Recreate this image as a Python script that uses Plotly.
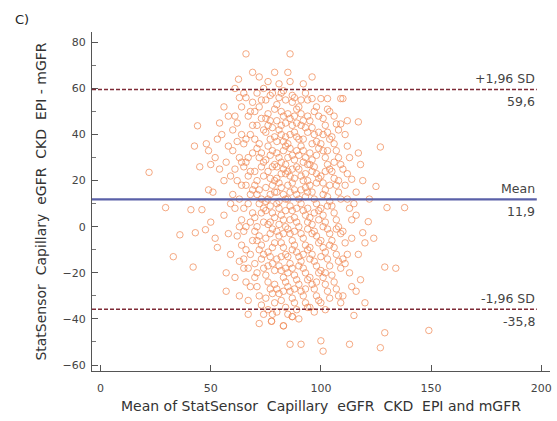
import plotly.graph_objects as go

# Hand-read (estimated) Bland-Altman points: mean of methods (x) and difference (y)
pts = [
 # outliers left
 (22,23.6),(29.5,8.3),(33,-13),(36,-3.5),(43,-2.6),(42,-17.5),(41,7.4),(46,7.4),(47.6,-1.3),
 (44,43.8),(42.6,35),(48,36),(49,33),(45,26),(50,27),(49,16),
 # 50-55
 (51,15),(53,38),(52,-5),(54,25),(50,2),(53,-9),(54,45),(52,30),
 # 55-60
 (56,20),(57,-20),(57,-28),(58,35),(59,10),(56,5),(58,48),(59,-12),(57,28),(55,40),(58,-3),(59,22),(56,52),(60,14),
 # 60-65
 (61,60),(62,45),(63,30),(64,18),(61,8),(62,-4),(63,-15),(64,52),(61,25),(62,37),(63,12),(64,-8),(60,33),
 (61,-22),(63,56),(64,3),(62,20),(60,42),(63,-30),(64,28),(61,48),(62.6,64),(63,0),(64,40),(65,-18),
 # 65-70
 (66,75),(69,67),(66,56),(67,48),(68,40),(69,32),(65,26),(66,18),(67,10),(68,2),(69,-6),(65,-14),(66,-24),
 (67,-32),(68,50),(69,44),(65,36),(66,28),(67,22),(68,14),(69,6),(65,-2),(66,-10),(67,-18),(68,-26),
 (69,54),(65,58),(66,38),(67,30),(68,24),(69,16),(65,8),(66,0),(67,-38),(68,-12),
 # 70-75
 (72,65),(71,58),(72,52),(73,47),(74,42),(70,38),(71,34),(72,30),(73,26),(74,22),(70,18),(71,14),(72,10),
 (73,6),(74,2),(70,-2),(71,-6),(72,-10),(73,-14),(74,-18),(70,-22),(71,-26),(72,-30),(73,-34),(74,-38),
 (70,50),(71,44),(72,36),(73,32),(74,28),(70,24),(71,20),(72,16),(73,12),(74,8),(70,4),(71,0),(72,-4),
 (73,-8),(74,-12),(70,-16),(71,-20),(72,-42),(73,55),(74,60),
 # 75-80
 (76,63),(77,57),(79,67),(78,58),(75,55),(76,49),(77,46),(78,43),(79,39),(75,41),(76,35),(77,31),(78,33),
 (79,27),(75,29),(76,24),(77,21),(78,18),(79,15),(75,17),(76,12),(77,9),(78,6),(79,4),(75,7),(76,1),
 (77,-3),(78,-1),(79,-7),(75,-5),(76,-11),(77,-13),(78,-16),(79,-19),(75,-21),(76,-24),(77,-27),(78,-29),
 (79,-33),(75,-31),(76,-36),(77.6,-41),(78,-38),(79,51),(75,47),(76,44),(77,38),(78,26),(79,20),(75,11),
 (76,-17),(77,14),(78,-9),(79,-25),(77,2),
 # 80-85
 (81,62),(83,59),(84,55),(80,53),(82,50),(83,48),(84,45),(80,46),(81,42),(82,40),(83,37),(84,35),(80,32),
 (81,30),(82,28),(83,25),(84,23),(80,21),(81,19),(82,17),(83,14),(84,12),(80,10),(81,8),(82,5),(83,3),
 (84,0),(80,-2),(81,-4),(82,-7),(83,-9),(84,-12),(80,-14),(81,-17),(82,-19),(83,-22),(84,-24),(80,-27),
 (81,-29),(82,-32),(83,-43),(84,-35),(80,-37),(81,56),(82,44),(83,33),(84,27),(80,15),(81,1),(82,-13),
 (83,-28),(84,39),(80,26),(81,11),(82,23),(83,-3),(84,-18),(82,58),(84,7),(80,37),
 # 85-90
 (86,75),(85,67),(86,63),(88,56),(87,54),(89,51),(85,49),(86,47),(87,44),(88,41),(89,39),(85,36),(86,34),
 (87,31),(88,29),(89,26),(85,24),(86,22),(87,19),(88,16),(89,14),(85,12),(86,9),(87,7),(88,4),(89,2),
 (85,-1),(86,-3),(87,-6),(88,-8),(89,-11),(85,-13),(86,-16),(87,-18),(88,-21),(89,-23),(85,-26),(86,-28),
 (87,-31),(88,-33),(89,-36),(85,-38),(87,-39),(86,-51),(87,57),(88,48),(89,33),(85,18),(86,3),(87,-10),
 (88,-27),(89,45),(85,30),(86,15),(87,25),(88,-2),(89,8),(85,-20),(86,40),(88,21),
 # 90-95
 (91,-51),(92,62),(93,58),(94,55),(90,52),(91,49),(92,46),(93,43),(94,41),(90,38),(91,35),(92,33),(93,30),
 (94,27),(90,25),(91,22),(92,20),(93,17),(94,15),(90,12),(91,10),(92,7),(93,5),(94,2),(90,0),(91,-3),
 (92,-5),(93,-8),(94,-10),(90,-13),(91,-15),(92,-18),(93,-20),(94,-23),(90,-25),(91,-28),(92,-30),(93,-33),
 (94,-35),(90,-40),(91,44),(92,28),(93,13),(94,-1),(90,-17),(91,55),(92,38),(93,23),(94,8),(90,31),
 (92,-12),(93,-27),(94,48),(91,16),(94,20),
 # 95-100
 (96,65),(96,55.6),(98,52),(99,48),(95,46),(96,43),(97,40),(98,37),(99,34),(95,32),(96,29),(97,26),(98,23),
 (99,21),(95,18),(96,15),(97,12),(98,10),(99,7),(95,4),(96,1),(97,-2),(98,-4),(99,-7),(95,-9),(96,-12),
 (97,-15),(98,-17),(99,-20),(95,-22),(96,-25),(97,-27),(98,-30),(99,-32),(95,-35),(97,-37),(100,-49.5),
 (100,55.6),(96,36),(97,50),(98,19),(99,3),(95,-14),(96,24),(97,6),(98,-24),(99,41),(95,27),(96,-3),(98,31),
 # 100-105
 (101,-54),(103,55.6),(104,50),(103,51),(101,47),(102,44),(103,41),(104,38),(100,36),(101,33),(102,30),
 (103,27),(104,25),(100,22),(101,19),(102,16),(103,13),(104,11),(100,8),(101,5),(102,2),(103,-1),(104,-3),
 (100,-6),(101,-9),(102,-11),(103,-14),(104,-17),(100,-19),(101,-22),(102,-25),(103,-28),(104,-31),
 (100,-33),(102,-36),(101,40),(102,24),(103,9),(104,-8),(100,-13),(101,14),(102,-20),(103,33),(104,18),(101,0),
 # 105-110
 (109,55.6),(110,55.6),(106,48),(107,44.6),(108,42),(109,44.6),(105,39),(106,36),(107,33),(108,30),(109,27),
 (105,24),(106,21),(107,18),(108,15),(109,12),(105,9),(106,6),(107,3),(108,0),(109,-3),(105,-6),(106,-9),
 (107,-12),(108,-15),(109,-18),(110,-14),(105,-21),(106,-24),(107,-27),(108,-30),(109,-33),(106,28),(108,20),(107,-1),
 # 110-115
 (111,40),(112,35),(113,30),(114,20.6),(110,25),(111,18),(112,12),(113,8),(114,3),(110,-2),(111,-7),(112,-12),
 (113,-20),(114,-26),(110,-30),(115,-38.5),(113,-51),(112,23),(111,-16),(114,-5),(115,10),(112,46),
 # 115-130
 (117,45.5),(117,32),(118,27),(116,15),(119,-2.6),(120,-7),(118,-23),(120,-33),(116,5),(117,-12),(119,20),(116,-28),
 (121.5,2.2),(125,17.5),(127,34.6),(129,-17.5),(130,8.3),(122,12),(124,-5),
 # right / bottom outliers
 (138,8.3),(134,-18),(129,-46),(149,-45),(127,-52.5),(83,-43),(87,-39),(77.6,-41),
]
mean_vals = [p[0] for p in pts]
diff_vals = [p[1] for p in pts]

bias = 11.9
upper_loa = 59.6
lower_loa = -35.8
line_names = ["+1,96 SD", "Mean", "-1,96 SD"]
line_values = [upper_loa, bias, lower_loa]
line_value_text = ["59,6", "11,9", "-35,8"]

X_MIN, X_MAX = -3.9, 204
Y_MIN, Y_MAX = -62.6, 84.5
FONT = "DejaVu Sans, Verdana, sans-serif"
L, R, T, B = 92, 5, 32, 50
pw, ph = 557 - L - R, 421 - T - B

fig = go.Figure()
fig.add_trace(go.Scatter(
    x=mean_vals, y=diff_vals, mode="markers",
    marker=dict(symbol="circle-open", size=6.5, color="rgba(240,140,90,0.75)",
                line=dict(width=1)),
    showlegend=False, hoverinfo="skip"))

line_styles = [dict(color="#7e2a36", width=1.5, dash="4px,2px"),
               dict(color="#5a60a8", width=2.2),
               dict(color="#7e2a36", width=1.5, dash="4px,2px")]
for name, val, txt, st in zip(line_names, line_values, line_value_text, line_styles):
    fig.add_shape(type="line", xref="x", yref="y", x0=X_MIN, x1=198, y0=val, y1=val, line=st)
    fig.add_annotation(x=198, y=val, xref="x", yref="y", text=name, showarrow=False,
                       xanchor="right", yanchor="bottom", yshift=1,
                       font=dict(size=12.5, color="#444", family=FONT))
    fig.add_annotation(x=198, y=val, xref="x", yref="y", text=txt, showarrow=False,
                       xanchor="right", yanchor="top", yshift=-3,
                       font=dict(size=12.5, color="#444", family=FONT))

fig.add_annotation(x=(22 - L) / pw, y=1 + (T - 20) / ph, xref="paper", yref="paper",
                   text="C)", showarrow=False, xanchor="center", yanchor="middle",
                   font=dict(size=13, color="#222", family=FONT))

axis_font = dict(size=11, color="#444", family=FONT)
fig.update_xaxes(range=[X_MIN, X_MAX], tickvals=[0, 50, 100, 150, 200],
                 showline=True, linecolor="#555", linewidth=1.2, ticks="inside", ticklen=6,
                 tickcolor="#555", showgrid=False, zeroline=False, tickfont=axis_font,
                 ticklabelstandoff=7,
                 title=dict(text="Mean of StatSensor  Capillary  eGFR  CKD  EPI and mGFR",
                            font=dict(size=14, color="#333", family=FONT),
                            standoff=6))
fig.update_yaxes(range=[Y_MIN, Y_MAX], tickvals=[-60, -40, -20, 0, 20, 40, 60, 80],
                 showline=True, linecolor="#555", linewidth=1.2, ticks="inside", ticklen=6,
                 tickcolor="#555", showgrid=False, zeroline=False, tickfont=axis_font,
                 ticklabelstandoff=3,
                 minor=dict(tickvals=[-50, -30, -10, 10, 30, 50, 70], ticks="inside",
                            ticklen=4, tickcolor="#777"),
                 title=dict(text="StatSensor  Capillary  eGFR  CKD  EPI - mGFR",
                            font=dict(size=14, color="#333", family=FONT),
                            standoff=12))

fig.update_layout(width=557, height=421, margin=dict(l=L, r=R, t=T, b=B),
                  plot_bgcolor="white", paper_bgcolor="white")
fig.write_html("out.html")
